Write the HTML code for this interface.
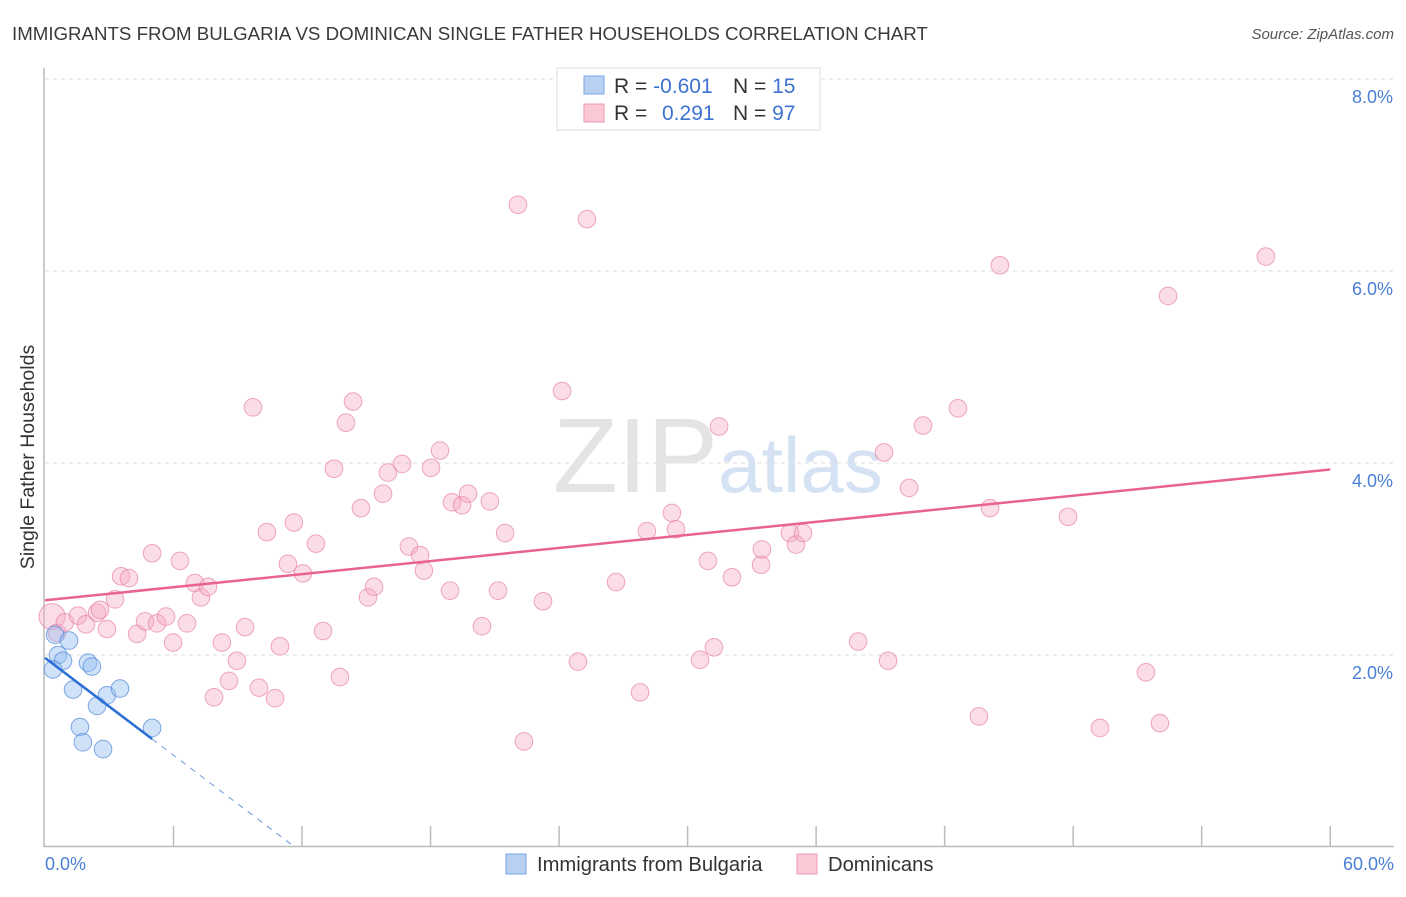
<!DOCTYPE html>
<html><head><meta charset="utf-8"><style>
body{margin:0;background:#fff;font-family:"Liberation Sans",sans-serif;}
svg text{font-family:"Liberation Sans",sans-serif;}
</style></head><body>
<svg width="1406" height="892" viewBox="0 0 1406 892" xmlns="http://www.w3.org/2000/svg">
<text x="12" y="40" font-size="18.7" fill="#3a3a3a">IMMIGRANTS FROM BULGARIA VS DOMINICAN SINGLE FATHER HOUSEHOLDS CORRELATION CHART</text>
<text x="1394" y="39" font-size="15" fill="#555" text-anchor="end" font-style="italic">Source: ZipAtlas.com</text>
<g id="grid"></g>
<g id="axes"></g>
<text x="553" y="492" font-size="106" fill="#e4e4e4" font-family="Liberation Serif">ZIP</text>
<text x="718" y="492" font-size="78" fill="#d5e2f4">atlas</text>
<g id="pink"></g>
<g id="blue"></g>
<g id="trends"></g>
<text transform="translate(34,457) rotate(-90)" font-size="19.5" fill="#333" text-anchor="middle">Single Father Households</text>
<text x="45" y="870" font-size="18" fill="#4a7fd6">0.0%</text>
<text x="1394" y="870" font-size="18" fill="#4a7fd6" text-anchor="end">60.0%</text>
<g>
<rect x="557" y="68" width="263" height="62" fill="#fff" stroke="#ddd"/>
<rect x="584" y="76" width="20" height="18" fill="#b8d1f3" stroke="#7aa6e4"/>
<rect x="584" y="104" width="20" height="18" fill="#fbc8d6" stroke="#ee9ab2"/>
<text x="614" y="93" font-size="21" fill="#333">R = <tspan fill="#3d73cf">-0.601</tspan><tspan x="733">N = </tspan><tspan fill="#3d73cf">15</tspan></text>
<text x="614" y="120" font-size="21" fill="#333">R = <tspan x="662" fill="#3d73cf">0.291</tspan><tspan x="733">N = </tspan><tspan fill="#3d73cf">97</tspan></text>
</g>
<g>
<rect x="506" y="854" width="20" height="20" fill="#b8d1f3" stroke="#7aa6e4"/>
<text x="537" y="871" font-size="20.2" fill="#333">Immigrants from Bulgaria</text>
<rect x="797" y="854" width="20" height="20" fill="#fbc8d6" stroke="#ee9ab2"/>
<text x="828" y="871" font-size="20.2" fill="#333">Dominicans</text>
</g>
</svg>
<script>
const yTicks=[2,4,6,8];
const yTickLabels=["2.0%","4.0%","6.0%","8.0%"];
const xTicks=[0,6,12,18,24,30,36,42,48,54,60];
const blueX=[0.47,1.12,0.61,0.84,0.37,2.01,2.19,1.31,2.43,2.89,3.50,1.63,1.77,2.71,5.00];
const blueY=[2.21,2.15,2.00,1.94,1.85,1.92,1.88,1.64,1.47,1.58,1.65,1.25,1.09,1.02,1.24];
const pinkX=[0.33,0.56,0.93,1.54,1.91,2.43,2.57,2.89,3.27,3.55,3.92,4.30,4.67,5.00,5.23,5.65,5.98,6.30,6.63,7.00,7.28,7.61,7.89,8.26,8.59,8.96,9.34,9.71,9.99,10.36,10.74,10.97,11.34,11.62,12.04,12.65,12.98,13.49,13.77,14.05,14.38,14.75,15.08,15.36,15.78,16.01,16.67,16.99,17.51,17.69,18.02,18.44,18.91,19.00,19.47,19.75,20.40,20.77,21.15,21.48,22.08,22.36,23.25,24.14,24.88,25.30,26.66,27.78,28.10,29.27,29.46,30.58,30.95,31.23,31.47,32.07,33.43,33.47,34.78,35.06,35.39,37.96,39.17,39.36,40.34,40.99,42.62,43.60,44.12,44.58,47.76,49.25,51.40,52.05,52.43,57.00];
const pinkY=[2.40,2.23,2.34,2.41,2.32,2.44,2.47,2.27,2.58,2.82,2.80,2.22,2.35,3.06,2.33,2.40,2.13,2.98,2.33,2.75,2.60,2.71,1.56,2.13,1.73,1.94,2.29,4.58,1.66,3.28,1.55,2.09,2.95,3.38,2.85,3.16,2.25,3.94,1.77,4.42,4.64,3.53,2.60,2.71,3.68,3.90,3.99,3.13,3.04,2.88,3.95,4.13,2.67,3.59,3.56,3.68,2.30,3.60,2.67,3.27,6.69,1.10,2.56,4.75,1.93,6.54,2.76,1.61,3.29,3.48,3.31,1.95,2.98,2.08,4.38,2.81,2.94,3.10,3.27,3.15,3.27,2.14,4.11,1.94,3.74,4.39,4.57,1.36,3.53,6.06,3.44,1.24,1.82,1.29,5.74,6.15];
const blueTrend=[1.97,-0.169]; // intercept, slope
const pinkTrend=[2.57,0.0227];
const NS="http://www.w3.org/2000/svg";
const sx=v=>45+v*21.42, sy=v=>847-v*96;
function mk(t,a,p){const e=document.createElementNS(NS,t);for(const k in a)e.setAttribute(k,a[k]);p.appendChild(e);return e;}
const grid=document.getElementById('grid'),axes=document.getElementById('axes');
yTicks.forEach((v,i)=>{
 const l=mk('line',{x1:45,x2:1394,y1:sy(v),y2:sy(v),stroke:'#ddd','stroke-dasharray':'4,4'},grid);
 
 
 const t=mk('text',{x:1393,y:sy(v)+24,'font-size':18,fill:'#4a7fd6','text-anchor':'end'},grid);
 t.textContent=yTickLabels[i];
 
 
});
mk('line',{x1:44,x2:44,y1:68,y2:847,stroke:'#bbb','stroke-width':1.5},axes);
mk('line',{x1:44,x2:1394,y1:846.5,y2:846.5,stroke:'#bbb','stroke-width':1.5},axes);
xTicks.slice(1).forEach(v=>{
 const l=mk('line',{x1:sx(v),x2:sx(v),y1:826,y2:846,stroke:'#bbb','stroke-width':1.5},axes);
 
 
});
const pink=document.getElementById('pink');
pinkX.forEach((x,i)=>{
 const c=mk('circle',{cx:sx(x),cy:sy(pinkY[i]),r:i==0?13:8.8,fill:'rgba(246,170,196,0.4)',stroke:'rgba(232,130,165,0.7)','stroke-width':1},pink);
 
 
});
const blue=document.getElementById('blue');
blueX.forEach((x,i)=>{
 const c=mk('circle',{cx:sx(x),cy:sy(blueY[i]),r:8.8,fill:'rgba(150,190,240,0.45)',stroke:'rgba(90,140,220,0.75)','stroke-width':1},blue);
 
 
});
const tr=document.getElementById('trends');
const bEnd=Math.max(...blueX);
const bl=mk('line',{x1:sx(0),y1:sy(blueTrend[0]),x2:sx(bEnd),y2:sy(blueTrend[0]+blueTrend[1]*bEnd),stroke:'#2b6fd6','stroke-width':2.5},tr);


const xz=-blueTrend[0]/blueTrend[1];
const bd=mk('line',{x1:sx(bEnd),y1:sy(blueTrend[0]+blueTrend[1]*bEnd),x2:sx(xz),y2:sy(0),stroke:'#6e98dd','stroke-width':1,'stroke-dasharray':'6,6'},tr);


const pl=mk('line',{x1:sx(0),y1:sy(pinkTrend[0]),x2:sx(60),y2:sy(pinkTrend[0]+pinkTrend[1]*60),stroke:'#e8648f','stroke-width':2.5},tr);


</script>
</body></html>
